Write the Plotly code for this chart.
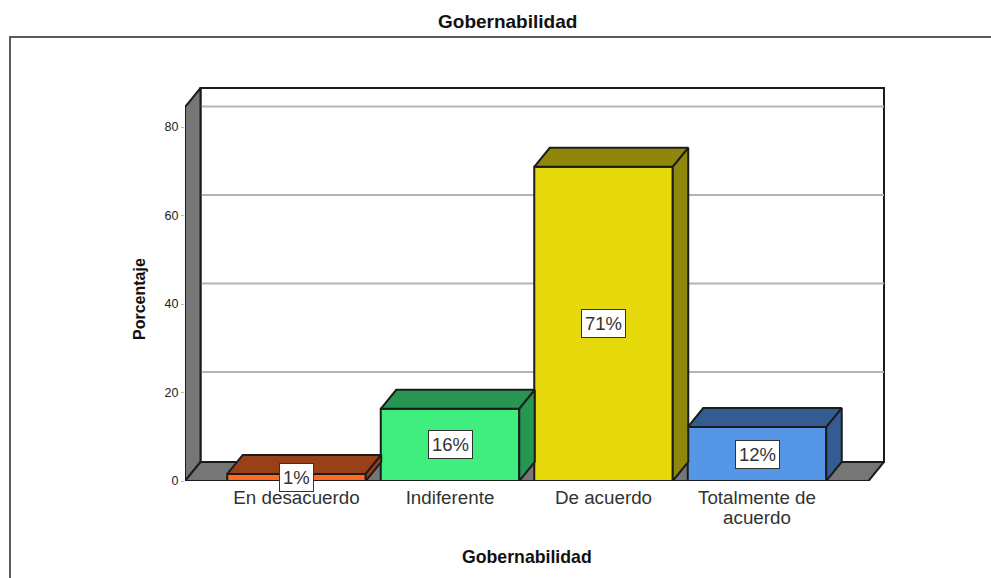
import plotly.graph_objects as go

# ---- data ----
categories = ["En desacuerdo", "Indiferente", "De acuerdo", "Totalmente de", "acuerdo"]
category_lines = [[0], [1], [2], [3, 4]]
values = [1.6, 16.3, 71.0, 12.2]
value_labels = ["1%", "16%", "71%", "12%"]
y_ticks = [0, 20, 40, 60, 80]

front_colors = ["#FF6A22", "#40EE80", "#E5D90C", "#5596E6"]
depth_colors = ["#9A4018", "#269651", "#8F870A", "#345C91"]

WIDTH, HEIGHT = 991, 578
L, R, T, B = 185, 885, 87, 481      # plot rectangle in pixels
PITCH = 153.5
PX_PER_Y = 4.425
X0_PX = 296.5
DEPTH_X = 15.5 / PITCH              # 3-D depth in axis units
DEPTH_Y = 19 / PX_PER_Y
GRID_LIFT = 20.5 / PX_PER_Y
BAR_W = 138.5 / PITCH
OUT = "#1c1c1c"
FONT = "Liberation Sans"

x_range = [(L - X0_PX) / PITCH, (R - X0_PX) / PITCH]
y_range = [0, (B - T) / PX_PER_Y]
xs = list(range(len(values)))

# tick text: line spacing follows tickfont size, glyph size follows the span
tick_text = ["<br>".join(f'<span style="font-size:18.8px">{categories[i]}</span>' for i in idx)
             for idx in category_lines]

fig = go.Figure()

# front faces
fig.add_trace(go.Bar(
    x=xs, y=values, width=BAR_W,
    marker=dict(color=front_colors, line=dict(color=OUT, width=2)),
    showlegend=False, hoverinfo="skip",
))

# depth faces
for x, v, c in zip(xs, values, depth_colors):
    a, b = x - BAR_W / 2, x + BAR_W / 2
    fig.add_trace(go.Scatter(
        x=[a, a + DEPTH_X, b + DEPTH_X, b, a],
        y=[v, v + DEPTH_Y, v + DEPTH_Y, v, v],
        mode="lines", fill="toself", fillcolor=c,
        line=dict(color=OUT, width=2), showlegend=False, hoverinfo="skip",
    ))
    fig.add_trace(go.Scatter(
        x=[b, b + DEPTH_X, b + DEPTH_X, b, b],
        y=[0, DEPTH_Y, v + DEPTH_Y, v, 0],
        mode="lines", fill="toself", fillcolor=c,
        line=dict(color=OUT, width=2), showlegend=False, hoverinfo="skip",
    ))

# walls, floor and shifted gridlines
xl, xr = x_range[0], x_range[1] - 1 / PITCH
shapes = []
def poly(pts, fill, color=OUT, width=2):
    path = "M " + " L ".join(f"{px},{py}" for px, py in pts) + " Z"
    shapes.append(dict(type="path", path=path, xref="x", yref="y", layer="below",
                       fillcolor=fill, line=dict(color=color, width=width)))

wall_top = y_range[1] - 1 / PX_PER_Y
poly([(xl + DEPTH_X, DEPTH_Y), (xl + DEPTH_X, wall_top),
      (xr, wall_top), (xr, DEPTH_Y)], "white")
for t in y_ticks[1:]:
    shapes.append(dict(type="line", xref="x", yref="y", layer="below",
                       x0=xl + DEPTH_X, x1=xr, y0=t + GRID_LIFT, y1=t + GRID_LIFT,
                       line=dict(color="#b4b4b4", width=2)))
poly([(xl, 0), (xl, wall_top - DEPTH_Y), (xl + DEPTH_X, wall_top), (xl + DEPTH_X, DEPTH_Y)], "#767676")
poly([(xl, 0), (xl + DEPTH_X, DEPTH_Y), (xr, DEPTH_Y), (xr - DEPTH_X, 0)], "#767676")

# outer frame of the picture
def px(v): return (v - L) / (R - L)
def py(v): return (B - v) / (B - T)
shapes.append(dict(type="path", xref="paper", yref="paper", layer="below",
                   path=f"M {px(10)},{py(HEIGHT)} L {px(10)},{py(37)} L {px(WIDTH)},{py(37)}",
                   line=dict(color="#5a5a5a", width=2)))

annotations = [
    dict(x=x, y=v / 2, text=lab, xref="x", yref="y", showarrow=False,
         bgcolor="white", bordercolor="#333333", borderwidth=1, borderpad=3,
         font=dict(family=FONT, size=18.5, color="#333333"))
    for x, v, lab in zip(xs, values, value_labels)
]
annotations += [
    dict(x=px(507), y=py(22), xref="paper", yref="paper", yanchor="middle", text="<b>Gobernabilidad</b>",
         showarrow=False, font=dict(family=FONT, size=19, color="#111111")),
    dict(x=px(527), y=py(557), xref="paper", yref="paper", yanchor="middle", text="<b>Gobernabilidad</b>",
         showarrow=False, font=dict(family=FONT, size=17.7, color="#111111")),
    dict(x=px(139), y=py(299), xref="paper", yref="paper", xanchor="center", yanchor="middle",
         text="<b>Porcentaje</b>", showarrow=False, textangle=-90,
         font=dict(family=FONT, size=16, color="#111111")),
]

fig.update_layout(
    width=WIDTH, height=HEIGHT,
    margin=dict(l=L, r=WIDTH - R, t=T, b=HEIGHT - B, pad=0),
    paper_bgcolor="white", plot_bgcolor="white",
    shapes=shapes, annotations=annotations, showlegend=False,
    xaxis=dict(range=x_range, tickvals=xs, ticktext=tick_text, ticks="", showgrid=False,
               zeroline=False, showline=False, ticklabelstandoff=7,
               tickfont=dict(family=FONT, size=15.4, color="#333333")),
    yaxis=dict(range=y_range, tickvals=y_ticks, ticks="outside", ticklen=3, tickcolor="#bbbbbb",
               showgrid=False, zeroline=False, showline=False,
               tickfont=dict(family=FONT, size=12.5, color="#222222")),
)

fig.write_html("out.html", config=dict(displayModeBar=False),
               post_script="document.body.style.margin='0';")
